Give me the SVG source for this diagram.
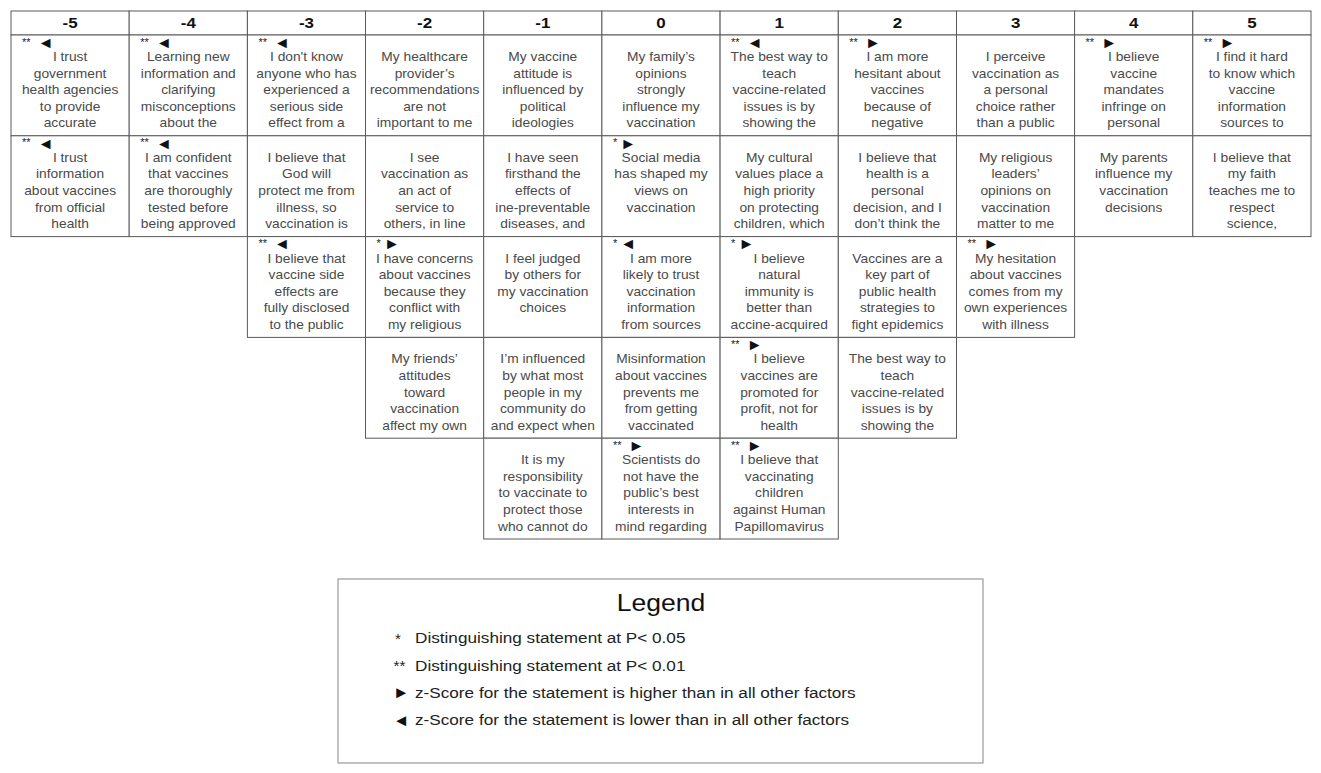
<svg xmlns="http://www.w3.org/2000/svg" width="1321" height="773" viewBox="0 0 1321 773">
<style>
.bg{fill:#fff}
.cell{fill:#fff;stroke:#5a5a5a;stroke-width:1}
.hd{fill:#fff;stroke:#5a5a5a;stroke-width:1}
.c{font-family:"Liberation Sans",Arial,sans-serif;font-size:12.2px;fill:#4a4a4a;text-anchor:middle}
.h{font-family:"Liberation Sans",Arial,sans-serif;font-size:15px;font-weight:bold;fill:#111;text-anchor:middle}
.ast{font-family:"Liberation Sans",Arial,sans-serif;font-size:11px;fill:#222}
.tri{font-family:"Liberation Sans","DejaVu Sans",sans-serif;font-size:16px;fill:#111}
.lgbox{fill:#fff;stroke:#9a9a9a;stroke-width:1.2}
.lgt{font-family:"Liberation Sans",Arial,sans-serif;font-size:23.5px;fill:#111;text-anchor:middle}
.lg{font-family:"Liberation Sans",Arial,sans-serif;font-size:15.2px;fill:#222}
.lgs{font-family:"Liberation Sans",Arial,sans-serif;font-size:15.2px;fill:#222}
.lgtri{font-family:"Liberation Sans","DejaVu Sans",sans-serif;font-size:16.5px;fill:#111}
</style>
<rect class="bg" x="0" y="0" width="1321" height="773"/>

<g id="header">
<rect class="hd" x="11" y="11" width="118.2" height="24"/><rect class="hd" x="129.2" y="11" width="118.2" height="24"/><rect class="hd" x="247.4" y="11" width="118.1" height="24"/><rect class="hd" x="365.5" y="11" width="118.2" height="24"/><rect class="hd" x="483.7" y="11" width="118.2" height="24"/><rect class="hd" x="601.9" y="11" width="118.2" height="24"/><rect class="hd" x="720.1" y="11" width="118.2" height="24"/><rect class="hd" x="838.3" y="11" width="118.2" height="24"/><rect class="hd" x="956.5" y="11" width="118.1" height="24"/><rect class="hd" x="1074.6" y="11" width="118.2" height="24"/><rect class="hd" x="1192.8" y="11" width="118.2" height="24"/>
<g transform="translate(70.1 0) scale(1.13 1)"><text class="h" x="0" y="28.5">-5</text></g>
<g transform="translate(188.3 0) scale(1.13 1)"><text class="h" x="0" y="28.5">-4</text></g>
<g transform="translate(306.5 0) scale(1.13 1)"><text class="h" x="0" y="28.5">-3</text></g>
<g transform="translate(424.6 0) scale(1.13 1)"><text class="h" x="0" y="28.5">-2</text></g>
<g transform="translate(542.8 0) scale(1.13 1)"><text class="h" x="0" y="28.5">-1</text></g>
<g transform="translate(661 0) scale(1.13 1)"><text class="h" x="0" y="28.5">0</text></g>
<g transform="translate(779.2 0) scale(1.13 1)"><text class="h" x="0" y="28.5">1</text></g>
<g transform="translate(897.4 0) scale(1.13 1)"><text class="h" x="0" y="28.5">2</text></g>
<g transform="translate(1015.6 0) scale(1.13 1)"><text class="h" x="0" y="28.5">3</text></g>
<g transform="translate(1133.7 0) scale(1.13 1)"><text class="h" x="0" y="28.5">4</text></g>
<g transform="translate(1251.9 0) scale(1.13 1)"><text class="h" x="0" y="28.5">5</text></g>
</g>

<!-- column -5 -->
<g id="cell-m5-1">
<rect class="cell" x="11" y="35" width="118.2" height="100.8"/>
<text class="ast" x="22" y="45.5">**</text><text class="tri" x="37.7" y="47.8">◄</text>
<g transform="translate(70.1 0) scale(1.13 1)"><text class="c"><tspan x="0" y="61">I trust</tspan><tspan x="0" y="77.6">government</tspan><tspan x="0" y="94.2">health agencies</tspan><tspan x="0" y="110.8">to provide</tspan><tspan x="0" y="127.4">accurate</tspan></text></g>
</g>
<g id="cell-m5-2">
<rect class="cell" x="11" y="135.8" width="118.2" height="100.8"/>
<text class="ast" x="22" y="146.3">**</text><text class="tri" x="37.7" y="148.6">◄</text>
<g transform="translate(70.1 0) scale(1.13 1)"><text class="c"><tspan x="0" y="161.8">I trust</tspan><tspan x="0" y="178.4">information</tspan><tspan x="0" y="195">about vaccines</tspan><tspan x="0" y="211.6">from official</tspan><tspan x="0" y="228.2">health</tspan></text></g>
</g>

<!-- column -4 -->
<g id="cell-m4-1">
<rect class="cell" x="129.2" y="35" width="118.2" height="100.8"/>
<text class="ast" x="140.2" y="45.5">**</text><text class="tri" x="155.9" y="47.8">◄</text>
<g transform="translate(188.3 0) scale(1.13 1)"><text class="c"><tspan x="0" y="61">Learning new</tspan><tspan x="0" y="77.6">information and</tspan><tspan x="0" y="94.2">clarifying</tspan><tspan x="0" y="110.8">misconceptions</tspan><tspan x="0" y="127.4">about the</tspan></text></g>
</g>
<g id="cell-m4-2">
<rect class="cell" x="129.2" y="135.8" width="118.2" height="100.8"/>
<text class="ast" x="140.2" y="146.3">**</text><text class="tri" x="155.9" y="148.6">◄</text>
<g transform="translate(188.3 0) scale(1.13 1)"><text class="c"><tspan x="0" y="161.8">I am confident</tspan><tspan x="0" y="178.4">that vaccines</tspan><tspan x="0" y="195">are thoroughly</tspan><tspan x="0" y="211.6">tested before</tspan><tspan x="0" y="228.2">being approved</tspan></text></g>
</g>

<!-- column -3 -->
<g id="cell-m3-1">
<rect class="cell" x="247.4" y="35" width="118.1" height="100.8"/>
<text class="ast" x="258.4" y="45.5">**</text><text class="tri" x="274.1" y="47.8">◄</text>
<g transform="translate(306.5 0) scale(1.13 1)"><text class="c"><tspan x="0" y="61">I don't know</tspan><tspan x="0" y="77.6">anyone who has</tspan><tspan x="0" y="94.2">experienced a</tspan><tspan x="0" y="110.8">serious side</tspan><tspan x="0" y="127.4">effect from a</tspan></text></g>
</g>
<g id="cell-m3-2">
<rect class="cell" x="247.4" y="135.8" width="118.1" height="100.8"/>
<g transform="translate(306.5 0) scale(1.13 1)"><text class="c"><tspan x="0" y="161.8">I believe that</tspan><tspan x="0" y="178.4">God will</tspan><tspan x="0" y="195">protect me from</tspan><tspan x="0" y="211.6">illness, so</tspan><tspan x="0" y="228.2">vaccination is</tspan></text></g>
</g>
<g id="cell-m3-3">
<rect class="cell" x="247.4" y="236.6" width="118.1" height="100.8"/>
<text class="ast" x="258.4" y="247.1">**</text><text class="tri" x="274.1" y="249.4">◄</text>
<g transform="translate(306.5 0) scale(1.13 1)"><text class="c"><tspan x="0" y="262.6">I believe that</tspan><tspan x="0" y="279.2">vaccine side</tspan><tspan x="0" y="295.8">effects are</tspan><tspan x="0" y="312.4">fully disclosed</tspan><tspan x="0" y="329">to the public</tspan></text></g>
</g>

<!-- column -2 -->
<g id="cell-m2-1">
<rect class="cell" x="365.5" y="35" width="118.2" height="100.8"/>
<g transform="translate(424.6 0) scale(1.13 1)"><text class="c"><tspan x="0" y="61">My healthcare</tspan><tspan x="0" y="77.6">provider’s</tspan><tspan x="0" y="94.2">recommendations</tspan><tspan x="0" y="110.8">are not</tspan><tspan x="0" y="127.4">important to me</tspan></text></g>
</g>
<g id="cell-m2-2">
<rect class="cell" x="365.5" y="135.8" width="118.2" height="100.8"/>
<g transform="translate(424.6 0) scale(1.13 1)"><text class="c"><tspan x="0" y="161.8">I see</tspan><tspan x="0" y="178.4">vaccination as</tspan><tspan x="0" y="195">an act of</tspan><tspan x="0" y="211.6">service to</tspan><tspan x="0" y="228.2">others, in line</tspan></text></g>
</g>
<g id="cell-m2-3">
<rect class="cell" x="365.5" y="236.6" width="118.2" height="100.8"/>
<text class="ast" x="376.5" y="247.1">*</text><text class="tri" x="383.9" y="249.4">►</text>
<g transform="translate(424.6 0) scale(1.13 1)"><text class="c"><tspan x="0" y="262.6">I have concerns</tspan><tspan x="0" y="279.2">about vaccines</tspan><tspan x="0" y="295.8">because they</tspan><tspan x="0" y="312.4">conflict with</tspan><tspan x="0" y="329">my religious</tspan></text></g>
</g>
<g id="cell-m2-4">
<rect class="cell" x="365.5" y="337.4" width="118.2" height="100.8"/>
<g transform="translate(424.6 0) scale(1.13 1)"><text class="c"><tspan x="0" y="363.4">My friends’</tspan><tspan x="0" y="380">attitudes</tspan><tspan x="0" y="396.6">toward</tspan><tspan x="0" y="413.2">vaccination</tspan><tspan x="0" y="429.8">affect my own</tspan></text></g>
</g>

<!-- column -1 -->
<g id="cell-m1-1">
<rect class="cell" x="483.7" y="35" width="118.2" height="100.8"/>
<g transform="translate(542.8 0) scale(1.13 1)"><text class="c"><tspan x="0" y="61">My vaccine</tspan><tspan x="0" y="77.6">attitude is</tspan><tspan x="0" y="94.2">influenced by</tspan><tspan x="0" y="110.8">political</tspan><tspan x="0" y="127.4">ideologies</tspan></text></g>
</g>
<g id="cell-m1-2">
<rect class="cell" x="483.7" y="135.8" width="118.2" height="100.8"/>
<g transform="translate(542.8 0) scale(1.13 1)"><text class="c"><tspan x="0" y="161.8">I have seen</tspan><tspan x="0" y="178.4">firsthand the</tspan><tspan x="0" y="195">effects of</tspan><tspan x="0" y="211.6">ine-preventable</tspan><tspan x="0" y="228.2">diseases, and</tspan></text></g>
</g>
<g id="cell-m1-3">
<rect class="cell" x="483.7" y="236.6" width="118.2" height="100.8"/>
<g transform="translate(542.8 0) scale(1.13 1)"><text class="c"><tspan x="0" y="262.6">I feel judged</tspan><tspan x="0" y="279.2">by others for</tspan><tspan x="0" y="295.8">my vaccination</tspan><tspan x="0" y="312.4">choices</tspan></text></g>
</g>
<g id="cell-m1-4">
<rect class="cell" x="483.7" y="337.4" width="118.2" height="100.8"/>
<g transform="translate(542.8 0) scale(1.13 1)"><text class="c"><tspan x="0" y="363.4">I’m influenced</tspan><tspan x="0" y="380">by what most</tspan><tspan x="0" y="396.6">people in my</tspan><tspan x="0" y="413.2">community do</tspan><tspan x="0" y="429.8">and expect when</tspan></text></g>
</g>
<g id="cell-m1-5">
<rect class="cell" x="483.7" y="438.2" width="118.2" height="100.8"/>
<g transform="translate(542.8 0) scale(1.13 1)"><text class="c"><tspan x="0" y="464.2">It is my</tspan><tspan x="0" y="480.8">responsibility</tspan><tspan x="0" y="497.4">to vaccinate to</tspan><tspan x="0" y="514">protect those</tspan><tspan x="0" y="530.6">who cannot do</tspan></text></g>
</g>

<!-- column 0 -->
<g id="cell-0-1">
<rect class="cell" x="601.9" y="35" width="118.2" height="100.8"/>
<g transform="translate(661 0) scale(1.13 1)"><text class="c"><tspan x="0" y="61">My family’s</tspan><tspan x="0" y="77.6">opinions</tspan><tspan x="0" y="94.2">strongly</tspan><tspan x="0" y="110.8">influence my</tspan><tspan x="0" y="127.4">vaccination</tspan></text></g>
</g>
<g id="cell-0-2">
<rect class="cell" x="601.9" y="135.8" width="118.2" height="100.8"/>
<text class="ast" x="612.9" y="146.3">*</text><text class="tri" x="620.3" y="148.6">►</text>
<g transform="translate(661 0) scale(1.13 1)"><text class="c"><tspan x="0" y="161.8">Social media</tspan><tspan x="0" y="178.4">has shaped my</tspan><tspan x="0" y="195">views on</tspan><tspan x="0" y="211.6">vaccination</tspan></text></g>
</g>
<g id="cell-0-3">
<rect class="cell" x="601.9" y="236.6" width="118.2" height="100.8"/>
<text class="ast" x="612.9" y="247.1">*</text><text class="tri" x="620.3" y="249.4">◄</text>
<g transform="translate(661 0) scale(1.13 1)"><text class="c"><tspan x="0" y="262.6">I am more</tspan><tspan x="0" y="279.2">likely to trust</tspan><tspan x="0" y="295.8">vaccination</tspan><tspan x="0" y="312.4">information</tspan><tspan x="0" y="329">from sources</tspan></text></g>
</g>
<g id="cell-0-4">
<rect class="cell" x="601.9" y="337.4" width="118.2" height="100.8"/>
<g transform="translate(661 0) scale(1.13 1)"><text class="c"><tspan x="0" y="363.4">Misinformation</tspan><tspan x="0" y="380">about vaccines</tspan><tspan x="0" y="396.6">prevents me</tspan><tspan x="0" y="413.2">from getting</tspan><tspan x="0" y="429.8">vaccinated</tspan></text></g>
</g>
<g id="cell-0-5">
<rect class="cell" x="601.9" y="438.2" width="118.2" height="100.8"/>
<text class="ast" x="612.9" y="448.7">**</text><text class="tri" x="628.6" y="451">►</text>
<g transform="translate(661 0) scale(1.13 1)"><text class="c"><tspan x="0" y="464.2">Scientists do</tspan><tspan x="0" y="480.8">not have the</tspan><tspan x="0" y="497.4">public’s best</tspan><tspan x="0" y="514">interests in</tspan><tspan x="0" y="530.6">mind regarding</tspan></text></g>
</g>

<!-- column 1 -->
<g id="cell-p1-1">
<rect class="cell" x="720.1" y="35" width="118.2" height="100.8"/>
<text class="ast" x="731.1" y="45.5">**</text><text class="tri" x="746.8" y="47.8">◄</text>
<g transform="translate(779.2 0) scale(1.13 1)"><text class="c"><tspan x="0" y="61">The best way to</tspan><tspan x="0" y="77.6">teach</tspan><tspan x="0" y="94.2">vaccine-related</tspan><tspan x="0" y="110.8">issues is by</tspan><tspan x="0" y="127.4">showing the</tspan></text></g>
</g>
<g id="cell-p1-2">
<rect class="cell" x="720.1" y="135.8" width="118.2" height="100.8"/>
<g transform="translate(779.2 0) scale(1.13 1)"><text class="c"><tspan x="0" y="161.8">My cultural</tspan><tspan x="0" y="178.4">values place a</tspan><tspan x="0" y="195">high priority</tspan><tspan x="0" y="211.6">on protecting</tspan><tspan x="0" y="228.2">children, which</tspan></text></g>
</g>
<g id="cell-p1-3">
<rect class="cell" x="720.1" y="236.6" width="118.2" height="100.8"/>
<text class="ast" x="731.1" y="247.1">*</text><text class="tri" x="738.5" y="249.4">►</text>
<g transform="translate(779.2 0) scale(1.13 1)"><text class="c"><tspan x="0" y="262.6">I believe</tspan><tspan x="0" y="279.2">natural</tspan><tspan x="0" y="295.8">immunity is</tspan><tspan x="0" y="312.4">better than</tspan><tspan x="0" y="329">accine-acquired</tspan></text></g>
</g>
<g id="cell-p1-4">
<rect class="cell" x="720.1" y="337.4" width="118.2" height="100.8"/>
<text class="ast" x="731.1" y="347.9">**</text><text class="tri" x="746.8" y="350.2">►</text>
<g transform="translate(779.2 0) scale(1.13 1)"><text class="c"><tspan x="0" y="363.4">I believe</tspan><tspan x="0" y="380">vaccines are</tspan><tspan x="0" y="396.6">promoted for</tspan><tspan x="0" y="413.2">profit, not for</tspan><tspan x="0" y="429.8">health</tspan></text></g>
</g>
<g id="cell-p1-5">
<rect class="cell" x="720.1" y="438.2" width="118.2" height="100.8"/>
<text class="ast" x="731.1" y="448.7">**</text><text class="tri" x="746.8" y="451">►</text>
<g transform="translate(779.2 0) scale(1.13 1)"><text class="c"><tspan x="0" y="464.2">I believe that</tspan><tspan x="0" y="480.8">vaccinating</tspan><tspan x="0" y="497.4">children</tspan><tspan x="0" y="514">against Human</tspan><tspan x="0" y="530.6">Papillomavirus</tspan></text></g>
</g>

<!-- column 2 -->
<g id="cell-p2-1">
<rect class="cell" x="838.3" y="35" width="118.2" height="100.8"/>
<text class="ast" x="849.3" y="45.5">**</text><text class="tri" x="865" y="47.8">►</text>
<g transform="translate(897.4 0) scale(1.13 1)"><text class="c"><tspan x="0" y="61">I am more</tspan><tspan x="0" y="77.6">hesitant about</tspan><tspan x="0" y="94.2">vaccines</tspan><tspan x="0" y="110.8">because of</tspan><tspan x="0" y="127.4">negative</tspan></text></g>
</g>
<g id="cell-p2-2">
<rect class="cell" x="838.3" y="135.8" width="118.2" height="100.8"/>
<g transform="translate(897.4 0) scale(1.13 1)"><text class="c"><tspan x="0" y="161.8">I believe that</tspan><tspan x="0" y="178.4">health is a</tspan><tspan x="0" y="195">personal</tspan><tspan x="0" y="211.6">decision, and I</tspan><tspan x="0" y="228.2">don’t think the</tspan></text></g>
</g>
<g id="cell-p2-3">
<rect class="cell" x="838.3" y="236.6" width="118.2" height="100.8"/>
<g transform="translate(897.4 0) scale(1.13 1)"><text class="c"><tspan x="0" y="262.6">Vaccines are a</tspan><tspan x="0" y="279.2">key part of</tspan><tspan x="0" y="295.8">public health</tspan><tspan x="0" y="312.4">strategies to</tspan><tspan x="0" y="329">fight epidemics</tspan></text></g>
</g>
<g id="cell-p2-4">
<rect class="cell" x="838.3" y="337.4" width="118.2" height="100.8"/>
<g transform="translate(897.4 0) scale(1.13 1)"><text class="c"><tspan x="0" y="363.4">The best way to</tspan><tspan x="0" y="380">teach</tspan><tspan x="0" y="396.6">vaccine-related</tspan><tspan x="0" y="413.2">issues is by</tspan><tspan x="0" y="429.8">showing the</tspan></text></g>
</g>

<!-- column 3 -->
<g id="cell-p3-1">
<rect class="cell" x="956.5" y="35" width="118.1" height="100.8"/>
<g transform="translate(1015.6 0) scale(1.13 1)"><text class="c"><tspan x="0" y="61">I perceive</tspan><tspan x="0" y="77.6">vaccination as</tspan><tspan x="0" y="94.2">a personal</tspan><tspan x="0" y="110.8">choice rather</tspan><tspan x="0" y="127.4">than a public</tspan></text></g>
</g>
<g id="cell-p3-2">
<rect class="cell" x="956.5" y="135.8" width="118.1" height="100.8"/>
<g transform="translate(1015.6 0) scale(1.13 1)"><text class="c"><tspan x="0" y="161.8">My religious</tspan><tspan x="0" y="178.4">leaders’</tspan><tspan x="0" y="195">opinions on</tspan><tspan x="0" y="211.6">vaccination</tspan><tspan x="0" y="228.2">matter to me</tspan></text></g>
</g>
<g id="cell-p3-3">
<rect class="cell" x="956.5" y="236.6" width="118.1" height="100.8"/>
<text class="ast" x="967.5" y="247.1">**</text><text class="tri" x="983.2" y="249.4">►</text>
<g transform="translate(1015.6 0) scale(1.13 1)"><text class="c"><tspan x="0" y="262.6">My hesitation</tspan><tspan x="0" y="279.2">about vaccines</tspan><tspan x="0" y="295.8">comes from my</tspan><tspan x="0" y="312.4">own experiences</tspan><tspan x="0" y="329">with illness</tspan></text></g>
</g>

<!-- column 4 -->
<g id="cell-p4-1">
<rect class="cell" x="1074.6" y="35" width="118.2" height="100.8"/>
<text class="ast" x="1085.6" y="45.5">**</text><text class="tri" x="1101.3" y="47.8">►</text>
<g transform="translate(1133.7 0) scale(1.13 1)"><text class="c"><tspan x="0" y="61">I believe</tspan><tspan x="0" y="77.6">vaccine</tspan><tspan x="0" y="94.2">mandates</tspan><tspan x="0" y="110.8">infringe on</tspan><tspan x="0" y="127.4">personal</tspan></text></g>
</g>
<g id="cell-p4-2">
<rect class="cell" x="1074.6" y="135.8" width="118.2" height="100.8"/>
<g transform="translate(1133.7 0) scale(1.13 1)"><text class="c"><tspan x="0" y="161.8">My parents</tspan><tspan x="0" y="178.4">influence my</tspan><tspan x="0" y="195">vaccination</tspan><tspan x="0" y="211.6">decisions</tspan></text></g>
</g>

<!-- column 5 -->
<g id="cell-p5-1">
<rect class="cell" x="1192.8" y="35" width="118.2" height="100.8"/>
<text class="ast" x="1203.8" y="45.5">**</text><text class="tri" x="1219.5" y="47.8">►</text>
<g transform="translate(1251.9 0) scale(1.13 1)"><text class="c"><tspan x="0" y="61">I find it hard</tspan><tspan x="0" y="77.6">to know which</tspan><tspan x="0" y="94.2">vaccine</tspan><tspan x="0" y="110.8">information</tspan><tspan x="0" y="127.4">sources to</tspan></text></g>
</g>
<g id="cell-p5-2">
<rect class="cell" x="1192.8" y="135.8" width="118.2" height="100.8"/>
<g transform="translate(1251.9 0) scale(1.13 1)"><text class="c"><tspan x="0" y="161.8">I believe that</tspan><tspan x="0" y="178.4">my faith</tspan><tspan x="0" y="195">teaches me to</tspan><tspan x="0" y="211.6">respect</tspan><tspan x="0" y="228.2">science,</tspan></text></g>
</g>

<g id="connectors"></g>

<g id="legend">
<rect class="lgbox" x="338" y="579" width="645" height="184"/>
<g transform="translate(661 0) scale(1.13 1)"><text class="lgt" x="0" y="611">Legend</text></g>
<text class="lgs" x="395" y="643.5">*</text>
<g transform="translate(415 0) scale(1.13 1)"><text class="lg" x="0" y="643.5">Distinguishing statement at P&lt; 0.05</text></g>
<text class="lgs" x="393.5" y="671">**</text>
<g transform="translate(415 0) scale(1.13 1)"><text class="lg" x="0" y="671">Distinguishing statement at P&lt; 0.01</text></g>
<text class="lgtri" x="393" y="698">►</text>
<g transform="translate(415 0) scale(1.13 1)"><text class="lg" x="0" y="698">z-Score for the statement is higher than in all other factors</text></g>
<text class="lgtri" x="393" y="725.5">◄</text>
<g transform="translate(415 0) scale(1.13 1)"><text class="lg" x="0" y="725.5">z-Score for the statement is lower than in all other factors</text></g>
</g>
</svg>
